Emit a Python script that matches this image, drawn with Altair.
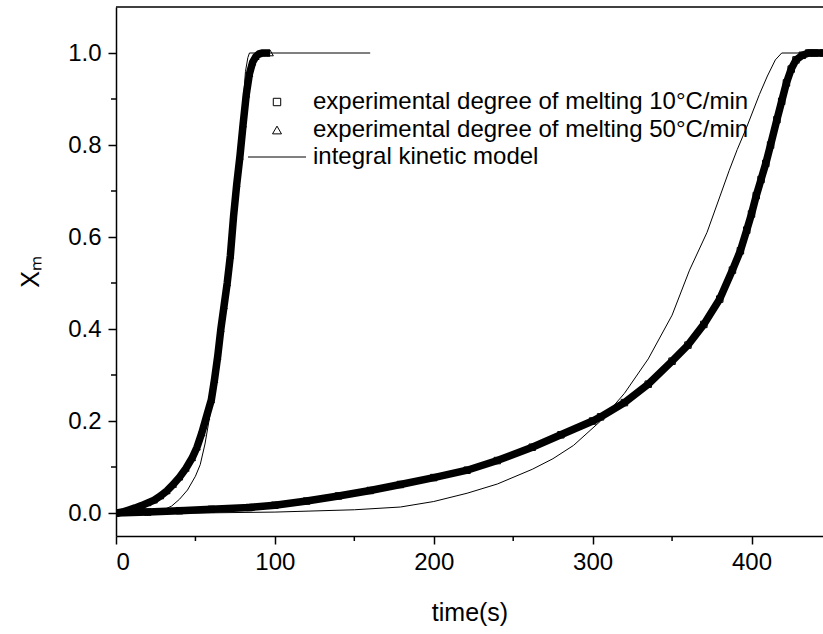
import altair as alt
import pandas as pd

# ---- data ----
# experimental, 10 °C/min (squares)
t_10 = [0, 20, 40, 60, 84, 100, 120, 140, 160, 179, 200, 221, 240, 262, 280, 300, 305,
        320, 335, 350, 360, 370, 380, 388, 393, 397, 400, 403, 406, 409, 412, 416, 419,
        422, 425, 428, 432, 436, 440, 445]
x_10 = [0, 0.002, 0.005, 0.008, 0.012, 0.017, 0.026, 0.037, 0.049, 0.062, 0.077, 0.093,
        0.114, 0.143, 0.17, 0.20, 0.209, 0.24, 0.28, 0.33, 0.365, 0.41, 0.465, 0.528,
        0.57, 0.615, 0.65, 0.69, 0.725, 0.76, 0.80, 0.855, 0.895, 0.935, 0.965, 0.985,
        0.995, 1.0, 1.0, 1.0]

# experimental, 50 °C/min (triangles)
t_50 = [0, 4, 8, 12, 16, 20, 24, 28, 32, 36, 40, 44, 48, 51, 54, 57, 60, 62, 64, 66, 68,
        70, 72, 74, 76, 78, 80, 82, 84, 86, 88, 90, 92, 94, 97]
x_50 = [0, 0.002, 0.0065, 0.011, 0.016, 0.022, 0.028, 0.037, 0.048, 0.062, 0.078, 0.097,
        0.12, 0.143, 0.174, 0.21, 0.246, 0.29, 0.34, 0.40, 0.45, 0.50, 0.56, 0.645, 0.715,
        0.775, 0.845, 0.91, 0.955, 0.98, 0.992, 0.998, 1.0, 1.0, 1.0]

# integral kinetic model, 50 °C/min
tm_50 = [0, 10, 20, 25, 30, 35, 40, 45, 50, 53, 56, 59, 62, 65, 68, 71, 74, 76, 78, 80,
         81.5, 83, 84, 160]
xm_50 = [0, 0, 0.001, 0.003, 0.007, 0.015, 0.03, 0.05, 0.08, 0.105, 0.15, 0.21, 0.28,
         0.37, 0.46, 0.56, 0.66, 0.72, 0.80, 0.89, 0.96, 0.99, 1.0, 1.0]

# integral kinetic model, 10 °C/min
tm_10 = [0, 50, 100, 150, 179, 200, 221, 240, 262, 275, 288, 305, 320, 335, 350, 361, 372,
         380, 386, 391, 397, 405, 410, 415, 419, 445]
xm_10 = [0, 0, 0.002, 0.007, 0.013, 0.025, 0.043, 0.063, 0.095, 0.118, 0.147, 0.20, 0.26,
         0.335, 0.43, 0.528, 0.61, 0.687, 0.745, 0.79, 0.839, 0.91, 0.95, 0.985, 1.0, 1.0]

legend_labels = ["experimental degree of melting 10°C/min",
                 "experimental degree of melting 50°C/min",
                 "integral kinetic model"]
x_ticks = [0, 100, 200, 300, 400]
x_minor = [50, 150, 250, 350]
y_ticks = [0.0, 0.2, 0.4, 0.6, 0.8, 1.0]
y_minor = [0.1, 0.3, 0.5, 0.7, 0.9]

# ---- layout ----
FONT = "Liberation Sans"
W, H = 707, 529

exp_df = pd.concat([
    pd.DataFrame({"time": t_10, "xm": x_10, "series": "10"}),
    pd.DataFrame({"time": t_50, "xm": x_50, "series": "50"}),
])
model_df = pd.concat([
    pd.DataFrame({"time": tm_50, "xm": xm_50, "series": "m50"}),
    pd.DataFrame({"time": tm_10, "xm": xm_10, "series": "m10"}),
])

xs = alt.Scale(domain=[0, 445], nice=False, zero=False)
ys = alt.Scale(domain=[-0.05, 1.1], nice=False, zero=False)

xenc = alt.X("time:Q", scale=xs,
             axis=alt.Axis(values=x_ticks, title="time(s)", format="d",
                           labelPadding=6, titlePadding=26))
yenc = alt.Y("xm:Q", scale=ys,
             axis=alt.Axis(values=y_ticks, title="Xₘ", format=".1f",
                           labelPadding=7, titlePadding=24))

band = alt.Chart(exp_df).mark_line(color="black", strokeWidth=7.5, clip=True).encode(
    x=xenc, y=yenc, detail="series:N")

pts = alt.Chart(exp_df).mark_point(filled=False, color="black", size=42,
                                    strokeWidth=1, clip=True, opacity=1).encode(
    x=xenc, y=yenc,
    shape=alt.Shape("series:N",
                    scale=alt.Scale(domain=["10", "50"], range=["square", "triangle-up"]),
                    legend=None))

model = alt.Chart(model_df).mark_line(color="black", strokeWidth=1, clip=True).encode(
    x=xenc, y=yenc, detail="series:N")

minor_x = alt.Chart(pd.DataFrame({"time": x_minor})).mark_rule(
    color="black", strokeWidth=1.5).encode(x=xenc, y=alt.value(H), y2=alt.value(H + 5))
minor_y = alt.Chart(pd.DataFrame({"xm": y_minor})).mark_rule(
    color="black", strokeWidth=1.5).encode(y=yenc, x=alt.value(0), x2=alt.value(-5))

top_frame = alt.Chart(pd.DataFrame({"a": [0]})).mark_rule(
    color="black", strokeWidth=1.5).encode(x=alt.value(0), x2=alt.value(W), y=alt.value(0))

# legend
leg_x_marker, leg_x_text = 161, 197
leg_y = [95, 123, 150]
leg_sq = alt.Chart(pd.DataFrame({"a": [0]})).mark_point(
    shape="square", filled=False, color="black", size=55, strokeWidth=1, opacity=1).encode(
    x=alt.value(leg_x_marker), y=alt.value(leg_y[0]))
leg_tri = alt.Chart(pd.DataFrame({"a": [0]})).mark_point(
    shape="triangle-up", filled=False, color="black", size=80, strokeWidth=1, opacity=1).encode(
    x=alt.value(leg_x_marker), y=alt.value(leg_y[1]))
leg_line = alt.Chart(pd.DataFrame({"a": [0]})).mark_rule(color="black", strokeWidth=1).encode(
    x=alt.value(132), x2=alt.value(190), y=alt.value(leg_y[2]))
leg_texts = [
    alt.Chart(pd.DataFrame({"label": [lab]})).mark_text(
        align="left", baseline="middle", font=FONT, fontSize=24, color="black").encode(
        x=alt.value(leg_x_text), y=alt.value(yy), text="label:N")
    for lab, yy in zip(legend_labels, leg_y)
]

chart = alt.layer(band, pts, model, minor_x, minor_y, top_frame,
                  leg_sq, leg_tri, leg_line, *leg_texts).properties(
    width=W, height=H,
    autosize=alt.AutoSizeParams(type="none"),
    padding={"left": 116, "top": 7, "right": 0, "bottom": 98},
    background="white",
).configure_view(stroke=None).configure_axis(
    grid=False, domainColor="black", domainWidth=1.5, tickColor="black",
    tickWidth=1.5, tickSize=8, labelFont=FONT, labelFontSize=24, labelColor="black",
    titleFont=FONT, titleFontSize=25, titleColor="black", titleFontWeight="normal",
)

chart.save("out.html", embed_options={"renderer": "svg", "actions": False})
